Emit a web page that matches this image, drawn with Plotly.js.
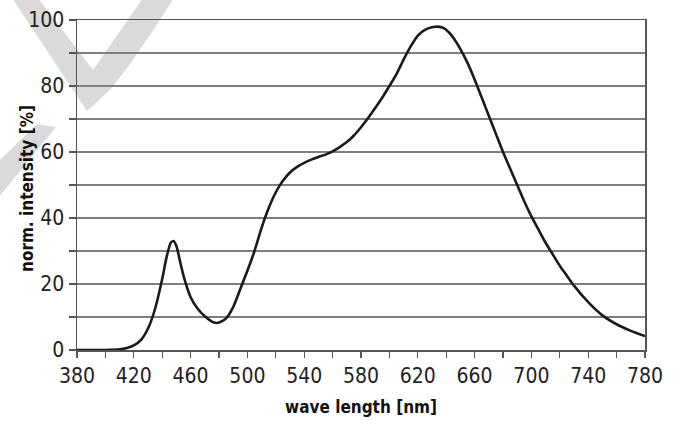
<!DOCTYPE html>
<html><head><meta charset="utf-8">
<script src="https://cdn.plot.ly/plotly-3.0.1.min.js"></script>
<style>html,body{margin:0;padding:0;background:#fff}#chart{width:680px;height:426px}</style>
</head><body><div id="chart"></div>
<script>
const wavelength = [380,390,400,410,415,420,425,430,435,440,443,446,448,450,453,456,460,465,470,475,478,481,485,490,495,500,505,510,515,520,525,530,535,540,545,550,555,560,565,570,575,580,585,590,595,600,605,610,615,620,625,630,634,638,642,645,650,655,660,665,670,675,680,685,690,695,700,705,710,715,720,725,730,740,750,760,770,780];
const intensity = [0,0,0,0.2,0.6,1.4,3,6.5,12.5,21.5,28,32.5,33,31.5,26,21,16,12.5,10.2,8.6,8.2,8.5,9.6,13,18.5,24,30,37,43,47.8,51.3,53.8,55.5,56.7,57.7,58.5,59.2,60.2,61.5,63,65,67.5,70.3,73.3,76.5,80,83.6,88,92,95.3,97,97.8,98,97.6,96.2,94.6,91.2,87,82,76.5,71,65.5,60,55,50,45,40.5,36.5,32.5,29,25.5,22.5,19.5,14.5,10.5,7.8,5.8,4.2];
const xTitle = "wave length [nm]";
const yTitle = "norm. intensity [%]";

// watermark outline (decorative), pixel -> paper
const L=77,R=645,T=20,B=350;
function P(px,py){return [((px-L)/(R-L)).toFixed(4),((B-py)/(B-T)).toFixed(4)];}
function path(pts){return pts.map((p,i)=>{const q=P(p[0],p[1]);return (i?'L':'M')+q[0]+','+q[1];}).join(' ')+' Z';}
const wm1 = path([[12,-2],[38,-2],[93,70],[143,-2],[174,-2],[152,32],[130,64],[110,90],[87,111]]);
const wm2 = path([[-5,165],[37,124],[56,127],[-5,202]]);

const fontT = "'Liberation Sans Narrow','Arial Narrow','DejaVu Sans Condensed',sans-serif";
const fontB = "'DejaVu Sans Condensed','Liberation Sans Narrow',sans-serif";
Plotly.newPlot('chart',[{
  x: wavelength, y: intensity, type:'scatter', mode:'lines',
  line:{color:'#1a1a1a', width:2.6, shape:'spline', smoothing:0.6},
  hoverinfo:'skip'
}],{
  width:680, height:426,
  margin:{l:77,r:35,t:20,b:76},
  paper_bgcolor:'#ffffff', plot_bgcolor:'rgba(0,0,0,0)',
  showlegend:false,
  font:{family:fontT, color:'#222', size:21},
  shapes:[
    {type:'path', path:wm1, xref:'paper', yref:'paper', fillcolor:'#dadada', line:{width:0}, layer:'below'},
    {type:'path', path:wm2, xref:'paper', yref:'paper', fillcolor:'#dadada', line:{width:0}, layer:'below'}
  ],
  annotations:[{
    text:yTitle, xref:'paper', yref:'paper', x:P(27,189)[0]*1, y:P(27,189)[1]*1,
    xanchor:'center', yanchor:'middle', textangle:-90, showarrow:false,
    font:{family:fontB, size:17, color:'#111', weight:'bold'}
  }],
  xaxis:{
    range:[380,780], tick0:380, dtick:40, ticks:'outside', ticklen:6, tickwidth:1.2, tickcolor:'#555',
    showgrid:false, zeroline:false, showline:true, linecolor:'#555', linewidth:1.5, mirror:true,
    minor:{dtick:20, ticks:'outside', ticklen:6, tickwidth:1.2, tickcolor:'#555', showgrid:false},
    tickfont:{family:fontT, size:21, color:'#222'},
    title:{text:xTitle, font:{family:fontB, size:17, color:'#111', weight:'bold'}, standoff:14}
  },
  yaxis:{
    range:[0,100], tick0:0, dtick:20, ticks:'outside', ticklen:7, tickwidth:1.2, tickcolor:'#555',
    showgrid:true, gridcolor:'#7f7f7f', gridwidth:1.3, zeroline:false,
    showline:true, linecolor:'#555', linewidth:1.5, mirror:true,
    minor:{dtick:10, ticks:'outside', ticklen:7, tickwidth:1.2, tickcolor:'#555', showgrid:true, gridcolor:'#7f7f7f', gridwidth:1.3},
    tickfont:{family:fontT, size:21, color:'#222'}
  }
},{displayModeBar:false, staticPlot:true});
</script></body></html>
